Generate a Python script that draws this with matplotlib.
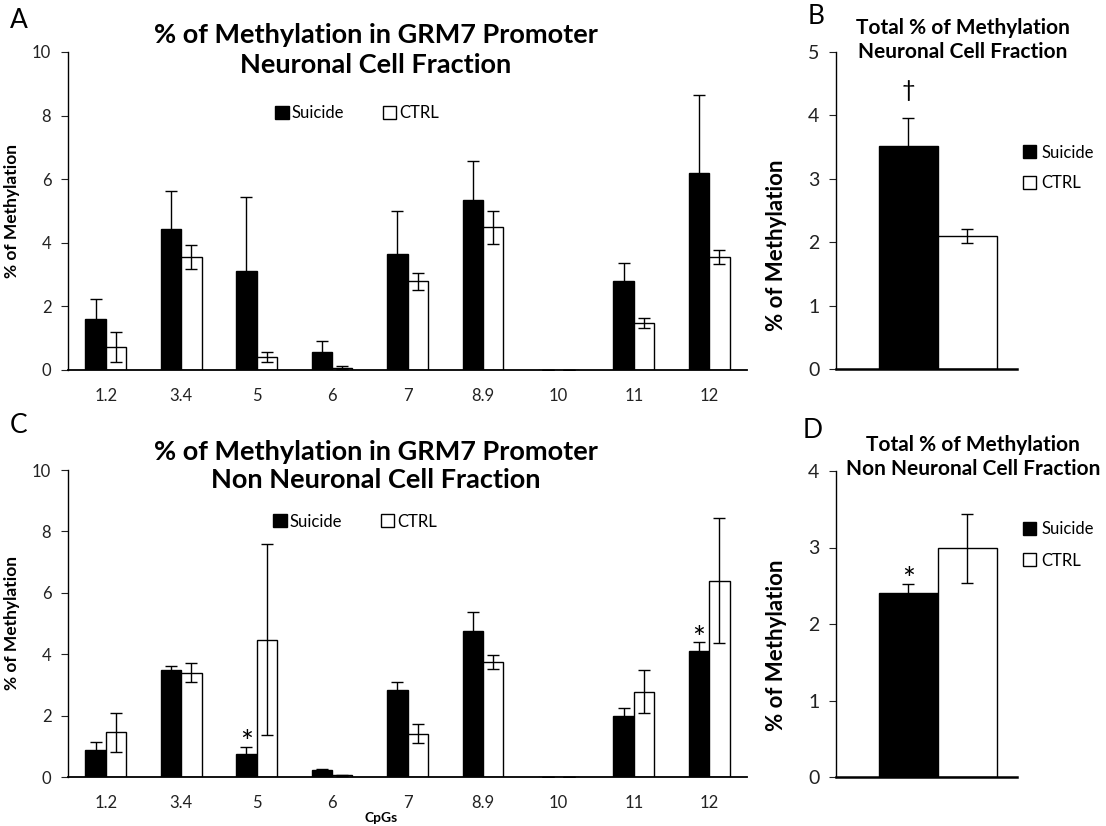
import numpy as np
import matplotlib
matplotlib.use("Agg")
import matplotlib.pyplot as plt
from matplotlib.patches import Patch

plt.rcParams['font.family'] = ['Lato', 'DejaVu Sans']

# CpG sites
cpgs = ["1.2", "3.4", "5", "6", "7", "8.9", "10", "11", "12"]

# Panel A: neuronal fraction, per CpG
neu_suicide = [1.60, 4.44, 3.12, 0.57, 3.66, 5.36, 0, 2.79, 6.19]
neu_suicide_err = [0.63, 1.18, 2.31, 0.33, 1.35, 1.20, 0, 0.59, 2.45]
neu_ctrl = [0.72, 3.55, 0.41, 0.07, 2.79, 4.49, 0, 1.47, 3.55]
neu_ctrl_err = [0.48, 0.37, 0.16, 0.05, 0.27, 0.52, 0, 0.15, 0.22]

# Panel C: non neuronal fraction, per CpG
non_suicide = [0.87, 3.47, 0.74, 0.24, 2.82, 4.77, 0, 1.99, 4.10]
non_suicide_err = [0.27, 0.15, 0.24, 0.02, 0.26, 0.62, 0, 0.27, 0.31]
non_ctrl = [1.45, 3.40, 4.47, 0.06, 1.41, 3.75, 0, 2.77, 6.40]
non_ctrl_err = [0.62, 0.31, 3.11, 0.02, 0.31, 0.23, 0, 0.70, 2.04]

# Panels B and D: totals (Suicide, CTRL)
groups = ["Suicide", "CTRL"]
neu_total = [3.51, 2.10]
neu_total_err = [0.45, 0.11]
non_total = [2.40, 2.99]
non_total_err = [0.12, 0.45]

W, H = 1106, 826
fig = plt.figure(figsize=(W / 100, H / 100), dpi=100)


def px_axes(l, t, r, b):
    return fig.add_axes([l / W, 1 - b / H, (r - l) / W, (b - t) / H])


def style(ax, ymax, step, label_x, label_y=0.5):
    ax.set_ylim(0, ymax)
    ax.set_yticks(np.arange(0, ymax + 0.01, step))
    for s in ["top", "right"]:
        ax.spines[s].set_visible(False)
    ax.spines["left"].set_linewidth(1.0)
    ax.spines["bottom"].set_linewidth(1.3)
    ax.tick_params(axis="y", direction="out", length=5, pad=7, labelsize=12, colors="#222222")
    ax.tick_params(axis="x", length=0, labelsize=12, colors="#222222", pad=13)
    ax.set_ylabel("% of Methylation", fontsize=12.5, fontweight="bold")
    ax.yaxis.set_label_coords(label_x, label_y)


def cpg_panel(ax, s, se, c, ce):
    x = np.arange(len(cpgs))
    w = 0.27
    ax.bar(x - w / 2, s, w, color="black", edgecolor="black", lw=1, zorder=2)
    ax.bar(x + w / 2, c, w, color="white", edgecolor="black", lw=1, zorder=2)
    ax.errorbar(x - w / 2, s, yerr=se, fmt="none", ecolor="black", elinewidth=1, capsize=4, zorder=3)
    ax.errorbar(x + w / 2, c, yerr=ce, fmt="none", ecolor="black", elinewidth=1, capsize=4, zorder=3)
    ax.set_xlim(-0.5, len(cpgs) - 0.5)
    ax.set_xticks(x)
    ax.set_xticklabels(cpgs)
    style(ax, 10, 2, -0.07)


def total_panel(ax, vals, errs, ymax, label_y):
    ax.bar(-0.25, vals[0], 0.5, color="black", edgecolor="black", lw=1, zorder=2)
    ax.bar(0.25, vals[1], 0.5, color="white", edgecolor="black", lw=1, zorder=2)
    ax.errorbar([-0.25, 0.25], vals, yerr=errs, fmt="none", ecolor="black", elinewidth=1, capsize=4, zorder=3)
    ax.set_xlim(-0.86, 0.67)
    ax.set_xticks([])
    style(ax, ymax, 1, -0.27, label_y)
    ax.spines["bottom"].set_linewidth(1.8)
    ax.yaxis.label.set_fontsize(16)
    ax.tick_params(axis="y", labelsize=14)


def legend_handles():
    return [Patch(facecolor="black", edgecolor="black"),
            Patch(facecolor="white", edgecolor="black")]


# A
axA = px_axes(68, 52, 747, 370)
cpg_panel(axA, neu_suicide, neu_suicide_err, neu_ctrl, neu_ctrl_err)
axA.legend(legend_handles(), groups, ncol=2, frameon=False, fontsize=12,
           handlelength=0.8, handleheight=0.8, handletextpad=0.2, columnspacing=2.3,
           loc="center", bbox_to_anchor=(0.426, 0.808))
fig.text(376 / W, 1 - 50 / H, "% of Methylation in GRM7 Promoter\nNeuronal Cell Fraction",
         ha="center", va="center", fontsize=19.5, fontweight="bold", linespacing=1.3)
fig.text(10 / W, 1 - 20 / H, "A", fontsize=19, va="center")

# C
axC = px_axes(68, 470, 747, 777)
cpg_panel(axC, non_suicide, non_suicide_err, non_ctrl, non_ctrl_err)
axC.legend(legend_handles(), groups, ncol=2, frameon=False, fontsize=12,
           handlelength=0.8, handleheight=0.8, handletextpad=0.2, columnspacing=2.3,
           loc="center", bbox_to_anchor=(0.423, 0.832))
axC.text(2 - 0.135, 1.1, "*", ha="center", va="center", fontsize=22)
axC.text(8 - 0.135, 4.5, "*", ha="center", va="center", fontsize=22)
fig.text(381 / W, 1 - 818 / H, "CpGs", ha="center", va="center", fontsize=10, fontweight="bold")
fig.text(376 / W, 1 - 466 / H, "% of Methylation in GRM7 Promoter\nNon Neuronal Cell Fraction",
         ha="center", va="center", fontsize=19.5, fontweight="bold", linespacing=1.15)
fig.text(10 / W, 1 - 425 / H, "C", fontsize=19, va="center")

# B
axB = px_axes(836, 52, 1017, 369)
total_panel(axB, neu_total, neu_total_err, 5, 0.39)
axB.text(-0.25, 4.4, "\u2020", ha="center", va="center", fontsize=17)
fig.legend(legend_handles(), groups, frameon=False, fontsize=12, loc="center left",
           handlelength=0.8, handleheight=0.8, handletextpad=0.3, labelspacing=0.9,
           bbox_to_anchor=(1008 / W, 1 - 168 / H))
fig.text(963 / W, 1 - 40 / H, "Total % of Methylation\nNeuronal Cell Fraction",
         ha="center", va="center", fontsize=15, fontweight="bold", linespacing=1.2)
fig.text(808 / W, 1 - 17 / H, "B", fontsize=19, va="center")

# D
axD = px_axes(836, 471, 1017, 777)
total_panel(axD, non_total, non_total_err, 4, 0.43)
axD.text(-0.25, 2.58, "*", ha="center", va="center", fontsize=22)
fig.legend(legend_handles(), groups, frameon=False, fontsize=12, loc="center left",
           handlelength=0.8, handleheight=0.8, handletextpad=0.3, labelspacing=0.9,
           bbox_to_anchor=(1008 / W, 1 - 545 / H))
fig.text(973 / W, 1 - 457 / H, "Total % of Methylation\nNon Neuronal Cell Fraction",
         ha="center", va="center", fontsize=15, fontweight="bold", linespacing=1.2)
fig.text(803 / W, 1 - 430 / H, "D", fontsize=19, va="center")

fig.savefig("out.png", dpi=100, facecolor="white")
